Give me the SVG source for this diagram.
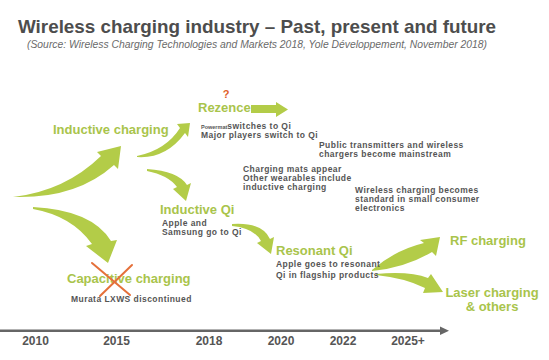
<svg xmlns="http://www.w3.org/2000/svg" width="549" height="360" viewBox="0 0 549 360">
<style>
.title{font-family:"Liberation Sans",Arial,sans-serif;font-weight:bold;font-size:19px;fill:#4d4d4d}
.sub{font-family:"Liberation Sans",Arial,sans-serif;font-style:italic;font-size:10px;fill:#6a6a6a}
.g{font-family:"Liberation Sans",Arial,sans-serif;font-weight:bold;font-size:13px;fill:#a9c44b}
.d{font-family:"Liberation Sans",Arial,sans-serif;font-weight:bold;font-size:8.5px;letter-spacing:0.45px;fill:#555}
.yr{font-family:"Liberation Sans",Arial,sans-serif;font-weight:bold;font-size:12px;fill:#555;text-anchor:middle}
.arr{fill:#b3cc48}
.x{stroke:#e5703a;stroke-width:2;stroke-linecap:round}
</style>
<rect width="549" height="360" fill="#fff"/>
<g id="header">
<text class="title" x="18" y="33" textLength="478" lengthAdjust="spacingAndGlyphs">Wireless charging industry – Past, present and future</text>
<text class="sub" x="27" y="48" textLength="460" lengthAdjust="spacingAndGlyphs">(Source: Wireless Charging Technologies and Markets 2018, Yole Développement, November 2018)</text>
</g>
<g id="connectors">
<path class="arr" d="M13,197 Q65,191 101,156 L97,152 L121,146 L118,169 L114,165 Q76,199 13,197 Z"/>
<path class="arr" d="M33,207 Q92,210 111,241 L117,240 L108,263 L86,246 L92,244 Q72,216 33,209 Z"/>
<path class="arr" d="M137,156 Q166,150 180,128 L177,124 L190,123 L188,137 L185,133 Q166,159 137,157 Z"/>
<path class="arr" d="M147,169 Q178,171 187,185 L191,183 L186,201 L173,189 L177,187 Q168,175 147,171 Z"/>
<path class="arr" d="M232,224 Q262,222 270,239 L274,237 L271,254 L257,243 L261,241 Q254,228 232,226 Z"/>
<path class="arr" d="M372,270 Q395,250 424,243 L420,240 L440,237 L436,256 L432,252 Q405,268 372,271 Z"/>
<path class="arr" d="M376,274 Q410,271 428,278 L431,274 L443,292 L423,293 L425,288 Q405,278 376,275 Z"/>
<path class="arr" d="M251,105 H276 V102 L288,109.5 L276,117 V113 H251 Z"/>
</g>
<g id="inductive-charging"><text class="g" x="53" y="134">Inductive charging</text></g>
<g id="rezence">
<text x="226" y="98" font-family="Liberation Sans,Arial,sans-serif" font-weight="bold" font-size="11" fill="#e0602a" text-anchor="middle">?</text>
<text class="g" x="198" y="112">Rezence</text>
<text class="d" x="201" y="129"><tspan font-size="5.5" letter-spacing="0">Powermat</tspan>switches to Qi</text>
<text class="d" x="201" y="138">Major players switch to Qi</text>
</g>
<g id="public">
<text class="d" x="319" y="148">Public transmitters and wireless</text>
<text class="d" x="319" y="157">chargers become mainstream</text>
</g>
<g id="mats">
<text class="d" x="243" y="172">Charging mats appear</text>
<text class="d" x="243" y="181">Other wearables include</text>
<text class="d" x="243" y="190">inductive charging</text>
</g>
<g id="standard">
<text class="d" x="355" y="193">Wireless charging becomes</text>
<text class="d" x="355" y="202">standard in small consumer</text>
<text class="d" x="355" y="211">electronics</text>
</g>
<g id="inductive-qi">
<text class="g" x="160" y="214" font-size="13.5">Inductive Qi</text>
<text class="d" x="162" y="226">Apple and</text>
<text class="d" x="162" y="235">Samsung go to Qi</text>
</g>
<g id="resonant-qi">
<text class="g" x="276" y="255">Resonant Qi</text>
<text class="d" x="276" y="267">Apple goes to resonant</text>
<text class="d" x="276" y="278">Qi in flagship products</text>
</g>
<g id="rf"><text class="g" x="450" y="245">RF charging</text></g>
<g id="laser">
<text class="g" x="492" y="297" text-anchor="middle">Laser charging</text>
<text class="g" x="492" y="311" text-anchor="middle">&amp; others</text>
</g>
<g id="capacitive">
<text class="g" x="67" y="283">Capacitive charging</text>
<line class="x" x1="92" y1="263" x2="130" y2="295"/>
<line class="x" x1="132" y1="265" x2="100" y2="296"/>
<text class="d" x="71" y="302">Murata LXWS discontinued</text>
</g>
<g id="timeline">
<rect x="0" y="329.5" width="442" height="2.5" fill="#666"/>
<path d="M440,326.5 L449,330.75 L440,335 Z" fill="#666"/>
<text class="yr" x="35.5" y="345">2010</text>
<text class="yr" x="116.5" y="345">2015</text>
<text class="yr" x="209" y="345">2018</text>
<text class="yr" x="281" y="345">2020</text>
<text class="yr" x="343" y="345">2022</text>
<text class="yr" x="408" y="345">2025+</text>
</g>
</svg>
